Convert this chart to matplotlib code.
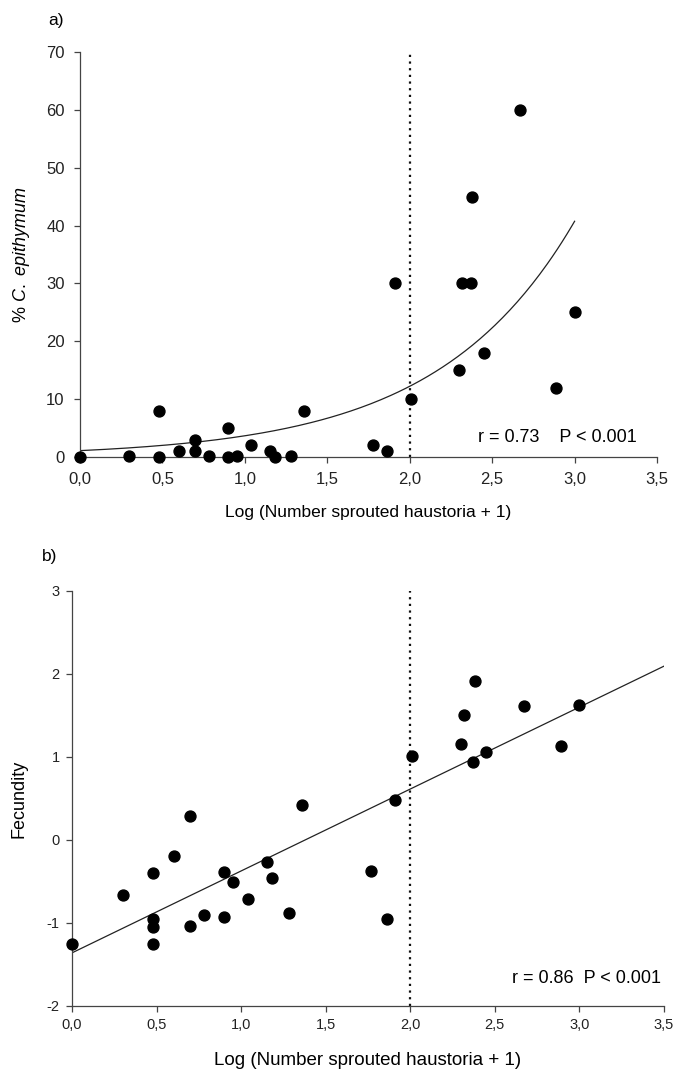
import numpy as np
import matplotlib
matplotlib.use('Agg')
import matplotlib.pyplot as plt
import matplotlib.ticker as ticker

plt.rcParams.update({'font.family': ['Liberation Sans', 'DejaVu Sans'],
                     'mathtext.fontset': 'custom',
                     'mathtext.it': 'Liberation Sans:italic',
                     'mathtext.rm': 'Liberation Sans',
                     'axes.unicode_minus': False,
                     'axes.linewidth': 0.9, 'axes.edgecolor': '#444444',
                     'xtick.color': '#444444', 'ytick.color': '#444444',
                     'xtick.labelcolor': '#222222', 'ytick.labelcolor': '#222222'})

# ===== panel a: % C. epithymum =====
a_x = [0.0, 0.30, 0.48, 0.48, 0.60, 0.70, 0.70, 0.78, 0.90, 0.90, 0.95, 1.04,
       1.15, 1.18, 1.28, 1.36, 1.78, 1.86, 1.91, 2.01, 2.30, 2.32, 2.37, 2.38,
       2.45, 2.67, 2.89, 3.00]
a_y = [0, 0.2, 8, 0, 1, 3, 1, 0.2, 5, 0, 0.2, 2,
       1, 0, 0.2, 8, 2, 1, 30, 10, 15, 30, 30, 45,
       18, 60, 12, 25]
# exponential fit y = A*exp(B*x)
a_fit = (1.1, 1.204)
a_fit_range = (0.0, 3.0)

# ===== panel b: Fecundity =====
b_x = [0.0, 0.30, 0.48, 0.48, 0.48, 0.48, 0.60, 0.70, 0.70, 0.78, 0.90, 0.90,
       0.95, 1.04, 1.15, 1.18, 1.28, 1.36, 1.77, 1.86, 1.91, 2.01, 2.30, 2.32,
       2.37, 2.38, 2.45, 2.67, 2.89, 3.00]
b_y = [-1.25, -0.66, -0.40, -0.95, -1.05, -1.25, -0.19, 0.29, -1.04, -0.90, -0.39, -0.93,
       -0.51, -0.71, -0.27, -0.46, -0.88, 0.42, -0.37, -0.95, 0.48, 1.01, 1.16, 1.51,
       0.94, 1.92, 1.06, 1.62, 1.13, 1.63]
# linear fit y = intercept + slope*x
b_fit = (-1.36, 0.987)
b_fit_range = (0.0, 3.5)

CUTOFF = 2.0
XLAB = 'Log (Number sprouted haustoria + 1)'


def comma(x, p):
    return f'{x:.1f}'.replace('.', ',')


def style(ax, fs, pad):
    for s in ['top', 'right']:
        ax.spines[s].set_visible(False)
    ax.tick_params(direction='out', length=4, width=0.9, labelsize=fs, pad=pad)
    ax.xaxis.set_major_formatter(ticker.FuncFormatter(comma))
    ax.set_xlim(0, 3.5)
    ax.set_xticks(np.arange(0, 3.51, 0.5))


fig = plt.figure(figsize=(6.77, 10.72), dpi=100)

# --- a ---
ax = fig.add_axes([0.1182, 0.5737, 0.8523, 0.3778])
style(ax, 12, 7)
ax.set_ylim(0, 70)
ax.set_yticks(range(0, 71, 10))
xx = np.linspace(*a_fit_range, 200)
ax.plot(xx, a_fit[0]*np.exp(a_fit[1]*xx), color='#222222', lw=0.9, zorder=2)
ax.plot([CUTOFF, CUTOFF], [0, 70], color='#111111', lw=1.6,
        linestyle=(0, (1, 2)), dash_capstyle='butt', zorder=1)
ax.scatter(a_x, a_y, s=62, color='black', zorder=3, clip_on=False)
ax.text(3.38, 3.3, 'r = 0.73    P < 0.001', ha='right', va='center', fontsize=13)
ax.set_xlabel(XLAB, fontsize=12.5, labelpad=13)
ax.set_ylabel('% $\\it{C.}$ $\\it{epithymum}$', fontsize=13, labelpad=10)
fig.text(48/677, 1-20/1072, 'a)', fontsize=12.5, va='center')

# --- b ---
ax = fig.add_axes([0.1064, 0.0616, 0.8744, 0.3871])
style(ax, 10.5, 5)
ax.set_ylim(-2, 3)
ax.set_yticks(range(-2, 4))
xx = np.linspace(*b_fit_range, 2)
ax.plot(xx, b_fit[0] + b_fit[1]*xx, color='#222222', lw=0.9, zorder=2)
ax.plot([CUTOFF, CUTOFF], [-2, 3], color='#111111', lw=1.6,
        linestyle=(0, (1, 2)), dash_capstyle='butt', zorder=1)
ax.scatter(b_x, b_y, s=62, color='black', zorder=3, clip_on=False)
ax.text(3.48, -1.67, 'r = 0.86  P < 0.001', ha='right', va='center', fontsize=13)
ax.set_xlabel(XLAB, fontsize=13.5, labelpad=14)
ax.set_ylabel('Fecundity', fontsize=13, labelpad=14)
fig.text(42/677, 1-557/1072, 'b)', fontsize=12.5, va='center')

plt.savefig('out.png', dpi=100)
